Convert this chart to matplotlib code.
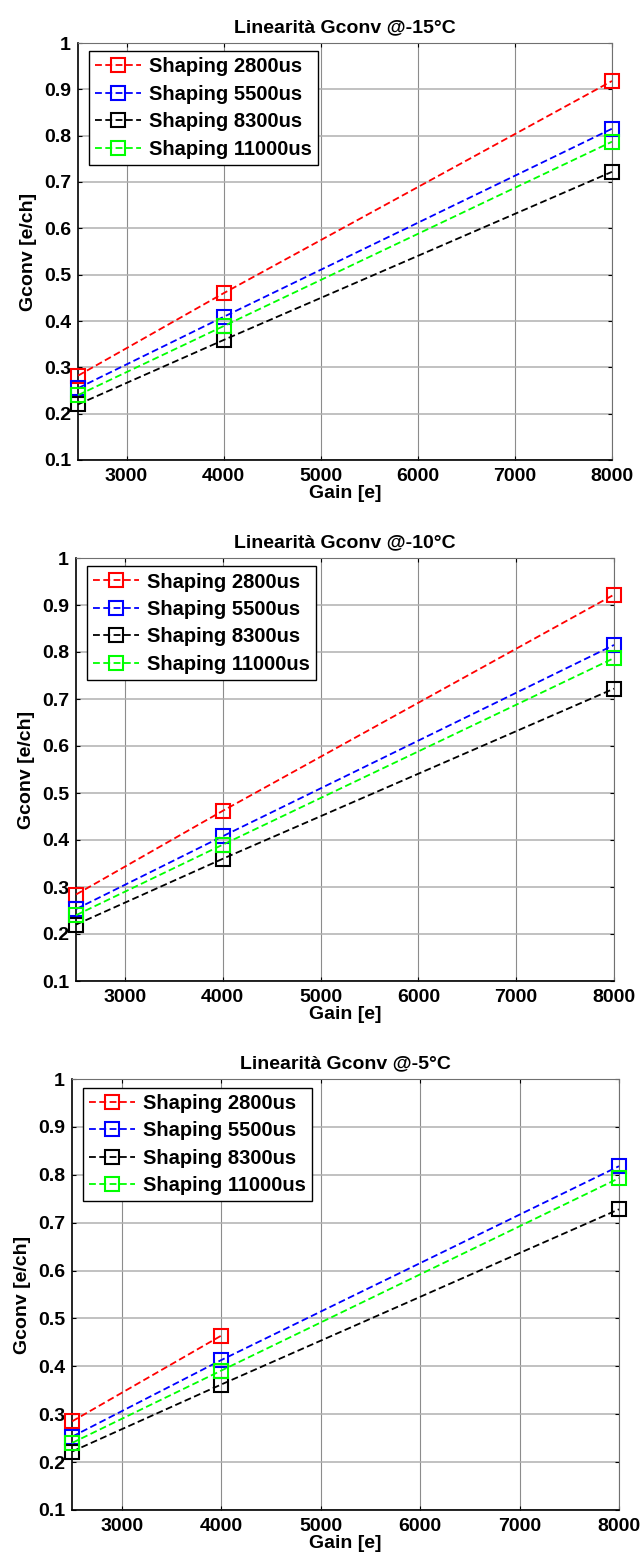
import matplotlib
matplotlib.use("Agg")
import matplotlib.pyplot as plt

plt.rcParams['font.family'] = ['Liberation Sans', 'DejaVu Sans']
plt.rcParams['font.weight'] = 'bold'

gain = [2500, 4000, 8000]
series_labels = ["Shaping 2800us", "Shaping 5500us", "Shaping 8300us", "Shaping 11000us"]
series_colors = ["#ff0000", "#0000ff", "#000000", "#00ff00"]
titles = ["Linearità Gconv @-15°C", "Linearità Gconv @-10°C", "Linearità Gconv @-5°C"]

# Gconv [e/ch] for each temperature, one list per shaping time
gconv_m15 = [
    [0.282, 0.460, 0.918],
    [0.255, 0.409, 0.815],
    [0.220, 0.359, 0.722],
    [0.240, 0.389, 0.787],
]
gconv_m10 = [
    [0.284, 0.462, 0.922],
    [0.253, 0.408, 0.815],
    [0.220, 0.360, 0.722],
    [0.240, 0.390, 0.787],
]
gconv_m5 = [
    [0.285, 0.464, None],
    [0.253, 0.413, 0.818],
    [0.222, 0.362, 0.728],
    [0.240, 0.391, 0.793],
]
panels = [gconv_m15, gconv_m10, gconv_m5]

x_ticks = [3000, 4000, 5000, 6000, 7000, 8000]
y_ticks = [0.1, 0.2, 0.3, 0.4, 0.5, 0.6, 0.7, 0.8, 0.9, 1.0]
y_tick_labels = ["0.1", "0.2", "0.3", "0.4", "0.5", "0.6", "0.7", "0.8", "0.9", "1"]

FS = 14
W, H = 641, 1560
fig = plt.figure(figsize=(W / 100, H / 100), dpi=100)

# axes boxes in pixels: left, right, top, bottom
boxes = [(78, 612, 43, 460), (76, 614, 558, 981), (72, 619, 1079, 1510)]

for data, title, (l, r, t, b) in zip(panels, titles, boxes):
    ax = fig.add_axes([l / W, 1 - b / H, (r - l) / W, (b - t) / H])
    for vals, lab, col in zip(data, series_labels, series_colors):
        xs = [g for g, v in zip(gain, vals) if v is not None]
        ys = [v for v in vals if v is not None]
        ax.plot(xs, ys, linestyle=(0, (3.8, 1.9)), color=col, linewidth=1.3,
                marker='s', markersize=10, markerfacecolor='none',
                markeredgecolor=col, markeredgewidth=1.5, label=lab,
                clip_on=False, zorder=3)
    ax.set_xlim(2500, 8000)
    ax.set_ylim(0.1, 1.0)
    ax.set_xticks(x_ticks)
    ax.set_xticklabels([str(v) for v in x_ticks], fontsize=FS, fontweight='bold')
    ax.set_yticks(y_ticks)
    ax.set_yticklabels(y_tick_labels, fontsize=FS, fontweight='bold')
    ax.xaxis.grid(True, color='#8c8c8c', linewidth=0.8, linestyle='-')
    ax.yaxis.grid(True, color='#b0b0b0', linewidth=1.1, linestyle='-')
    ax.set_axisbelow(True)
    ax.tick_params(direction='in', length=3, width=0.8, top=True, right=True,
                   colors='black')
    ax.tick_params(axis='x', pad=6)
    ax.tick_params(axis='y', pad=5)
    for side in ('left', 'bottom'):
        ax.spines[side].set_linewidth(1.2)
        ax.spines[side].set_color('black')
    for side in ('top', 'right'):
        ax.spines[side].set_linewidth(0.8)
        ax.spines[side].set_color('#707070')
    ax.set_title(title, fontsize=FS, fontweight='bold', pad=8)
    ax.set_xlabel("Gain [e]", fontsize=FS, fontweight='bold', labelpad=0)
    ax.set_ylabel("Gconv [e/ch]", fontsize=FS, fontweight='bold', labelpad=5)
    leg = ax.legend(loc='upper left', bbox_to_anchor=(0.02, 0.98),
                    prop={'size': 14.5, 'weight': 'bold'}, frameon=True,
                    fancybox=False, edgecolor='black', framealpha=1,
                    handlelength=2.3, handletextpad=0.4, borderpad=0.3,
                    labelspacing=0.42, borderaxespad=0.0)
    leg.get_frame().set_linewidth(1.0)

fig.savefig("out.png", dpi=100)
